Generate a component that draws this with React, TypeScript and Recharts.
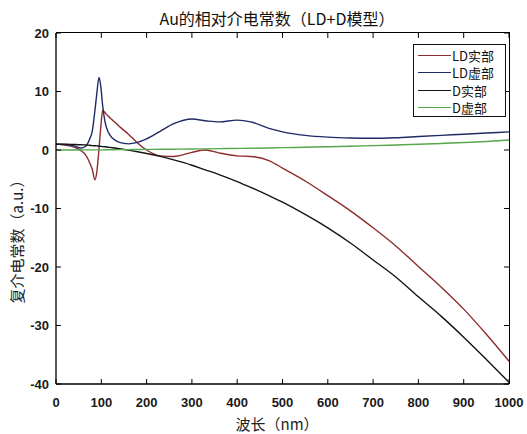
import React from 'react';
import { LineChart, Line, XAxis, YAxis, ReferenceLine } from 'recharts';

// wavelength samples (nm) and curves
const wavelengths = [0, 20, 40, 55, 65, 75, 80, 86, 90, 95, 99, 103, 108, 115, 125, 140, 160, 180, 200, 230, 260, 300, 330, 360, 400, 430, 470, 500, 550, 600, 650, 700, 750, 800, 850, 900, 950, 1000];
const ldReal = [1.0, 0.85, 0.5, -0.1, -0.8, -2.3, -3.3, -5.1, -3.8, 0.3, 4.0, 6.8, 6.4, 5.8, 5.1, 4.0, 2.7, 1.2, 0.0, -1.0, -1.1, -0.4, 0.0, -0.5, -1.0, -1.1, -1.8, -3.1, -5.3, -7.8, -10.4, -13.3, -16.4, -19.9, -23.4, -27.2, -31.5, -36.1];
const ldImag = [1.0, 0.95, 0.7, 0.35, 0.6, 2.0, 3.2, 6.8, 9.6, 12.4, 10.8, 7.6, 4.9, 3.1, 2.0, 1.3, 1.05, 1.3, 1.9, 3.2, 4.5, 5.3, 5.0, 4.8, 5.1, 4.8, 3.7, 3.1, 2.5, 2.2, 2.05, 2.0, 2.1, 2.3, 2.5, 2.7, 2.9, 3.1];
const dReal = [1.0, 1.0, 0.95, 0.9, 0.85, 0.8, 0.75, 0.72, 0.7, 0.65, 0.62, 0.58, 0.55, 0.48, 0.38, 0.22, -0.02, -0.3, -0.6, -1.1, -1.7, -2.6, -3.4, -4.2, -5.4, -6.4, -7.8, -8.9, -11.0, -13.3, -15.9, -18.8, -21.7, -25.1, -28.4, -32.0, -35.8, -39.7];
const dImag = [0, 0, 0.01, 0.01, 0.02, 0.02, 0.02, 0.02, 0.03, 0.03, 0.03, 0.03, 0.04, 0.04, 0.05, 0.06, 0.07, 0.09, 0.1, 0.12, 0.14, 0.17, 0.2, 0.23, 0.27, 0.3, 0.35, 0.4, 0.47, 0.55, 0.64, 0.74, 0.86, 0.98, 1.12, 1.27, 1.45, 1.7];

const xTicks = [0, 100, 200, 300, 400, 500, 600, 700, 800, 900, 1000];
const yTicks = [-40, -30, -20, -10, 0, 10, 20];
const xMin = 0;
const xMax = 1000;
const yMin = -40;
const yMax = 20;

const series = [
  { key: 'ldReal', name: 'LD实部', color: '#8e2b2b' },
  { key: 'ldImag', name: 'LD虚部', color: '#1f2a66' },
  { key: 'dReal', name: 'D实部', color: '#141414' },
  { key: 'dImag', name: 'D虚部', color: '#55a84c' },
];

const data = wavelengths.map((wl, i) => ({
  wl,
  ldReal: ldReal[i],
  ldImag: ldImag[i],
  dReal: dReal[i],
  dImag: dImag[i],
}));

const latin = '"Liberation Sans", Arial, sans-serif';
const cjk = '"Noto Sans CJK SC", "Liberation Sans", sans-serif';
const tickStyle = { fill: '#1a1a1a', fontSize: 13, fontFamily: latin, fontWeight: 'bold' };
const frame = '#000';

// plot box inside the 527x434 chart
const plot = { left: 56, top: 33, width: 453, height: 351 };

const LegendBox = () => (
  <div style={{ position: 'absolute', left: 413, top: 44, width: 93, height: 73, border: '1px solid #111', background: '#fff', padding: '2px 0 0 4px', boxSizing: 'border-box' }}>
    {series.map((s) => (
      <div key={s.key} style={{ display: 'flex', alignItems: 'center', height: 17.3 }}>
        <div style={{ width: 33, height: 0, borderTop: `1.5px solid ${s.color}`, marginRight: 1 }} />
        <span style={{ fontSize: 13, fontFamily: cjk, color: '#111', lineHeight: '15px' }}>{s.name}</span>
      </div>
    ))}
  </div>
);

// top and right edges of the box
const Frame = () => (
  <div style={{ position: 'absolute', left: plot.left, top: plot.top - 1, width: plot.width + 1, height: plot.height + 1, borderTop: `1.5px solid ${frame}`, borderRight: `1.5px solid ${frame}`, boxSizing: 'border-box', pointerEvents: 'none' }} />
);

export default function App() {
  return (
    <div style={{ position: 'absolute', left: 0, top: 0, width: 527, height: 434, background: '#fff' }}>
      <LineChart width={527} height={434} data={data}
        margin={{ top: plot.top, right: 527 - plot.left - plot.width, left: 0, bottom: 0 }}>
        <XAxis dataKey="wl" type="number" domain={[xMin, xMax]} ticks={xTicks} height={434 - plot.top - plot.height}
          axisLine={{ stroke: frame, strokeWidth: 1.3 }} tickLine={{ stroke: frame }} tickSize={-5} tickMargin={19}
          tick={tickStyle} interval={0} />
        <YAxis type="number" domain={[yMin, yMax]} ticks={yTicks} width={plot.left}
          axisLine={{ stroke: frame, strokeWidth: 1.3 }} tickLine={{ stroke: frame }} tickSize={-5} tickMargin={12}
          tick={tickStyle} interval={0} />
        {xTicks.map((t) => (
          <ReferenceLine key={`tx${t}`} segment={[{ x: t, y: yMax }, { x: t, y: yMax - 0.85 }]}
            stroke={frame} strokeWidth={1} ifOverflow="visible" />
        ))}
        {yTicks.map((t) => (
          <ReferenceLine key={`ty${t}`} segment={[{ x: xMax, y: t }, { x: xMax - 11, y: t }]}
            stroke={frame} strokeWidth={1} ifOverflow="visible" />
        ))}
        {series.map((s) => (
          <Line key={s.key} dataKey={s.key} name={s.name} type="monotone" stroke={s.color}
            strokeWidth={1.4} dot={false} isAnimationActive={false} />
        ))}
      </LineChart>
      <Frame />
      <div style={{ position: 'absolute', left: 277, top: 18, transform: 'translate(-50%, -50%)', whiteSpace: 'nowrap', fontSize: 16, fontFamily: cjk, color: '#111' }}>
        Au的相对介电常数（LD+D模型）
      </div>
      <div style={{ position: 'absolute', left: 16, top: 238, transform: 'translate(-50%, -50%) rotate(-90deg)', whiteSpace: 'nowrap', fontSize: 15, fontFamily: cjk, color: '#222' }}>
        复介电常数（a.u.）
      </div>
      <div style={{ position: 'absolute', left: 277, top: 423, transform: 'translate(-50%, -50%)', whiteSpace: 'nowrap', fontSize: 15, fontFamily: cjk, color: '#222' }}>
        波长（nm）
      </div>
      <LegendBox />
    </div>
  );
}
